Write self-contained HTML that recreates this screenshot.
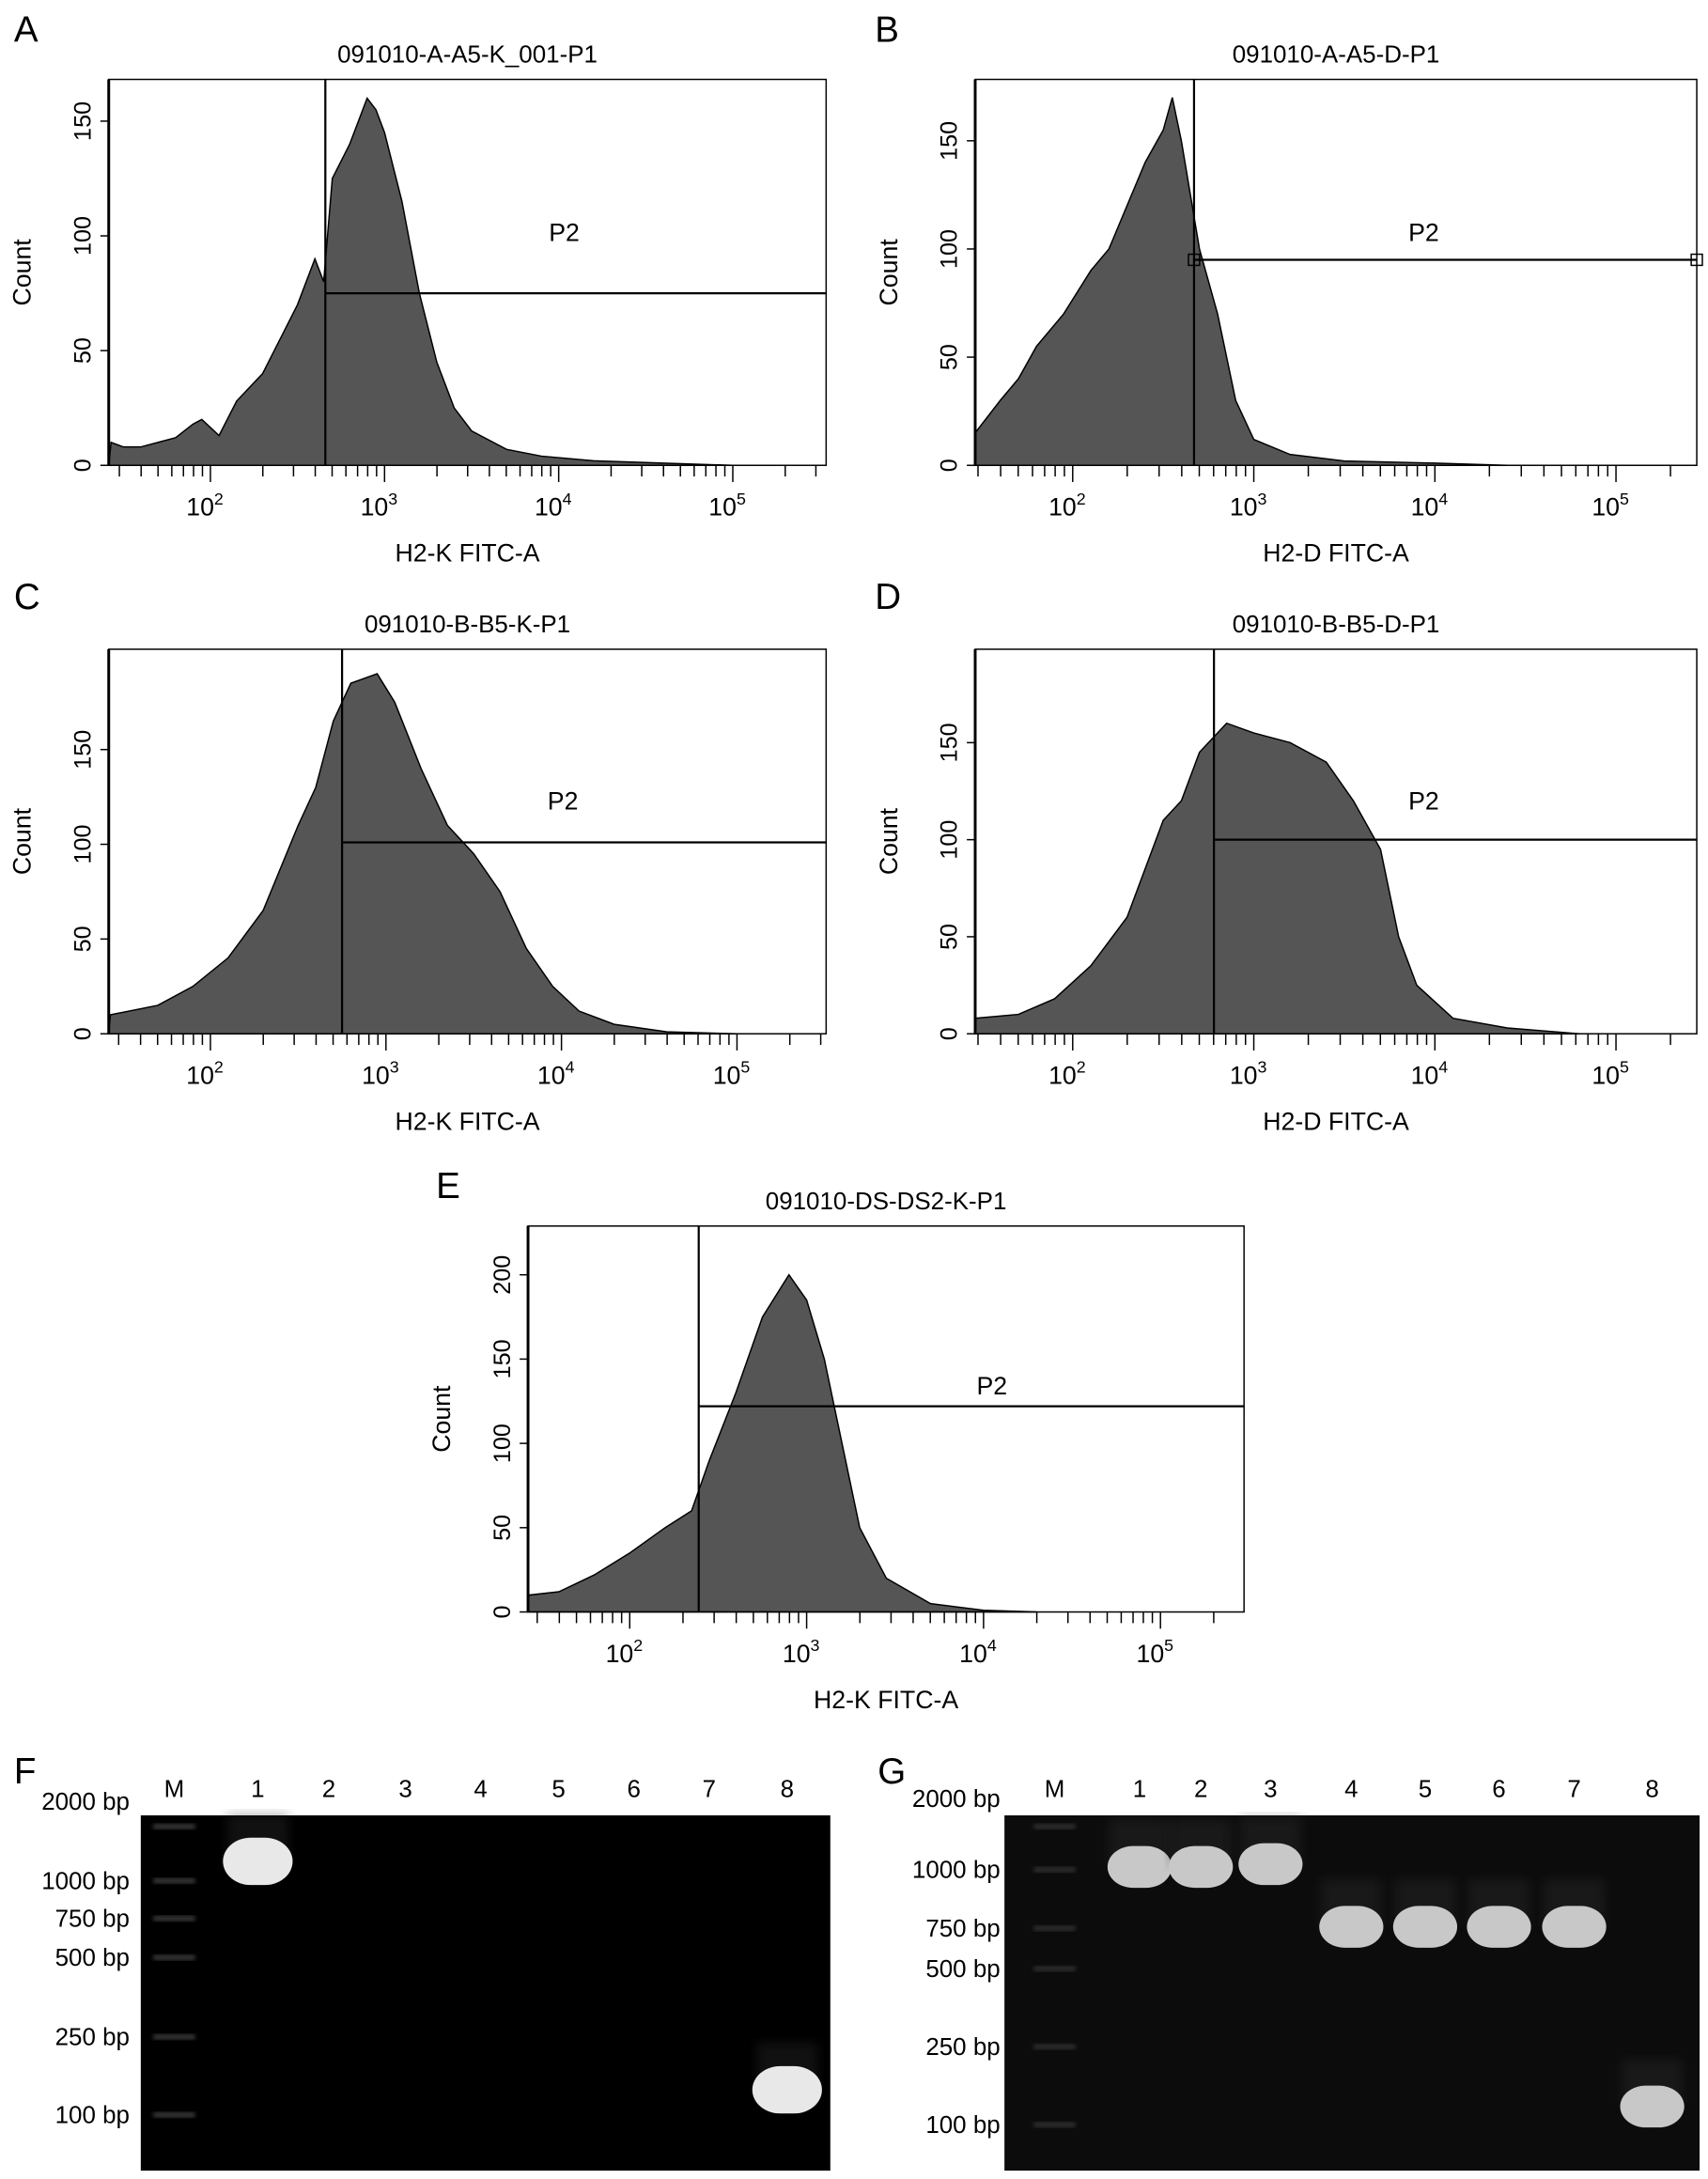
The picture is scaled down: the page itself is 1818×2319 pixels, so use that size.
<!DOCTYPE html>
<html><head><meta charset="utf-8">
<style>
html,body{margin:0;padding:0;background:#fff;}
svg{display:block;font-family:"Liberation Sans",Arial,sans-serif;}
</style></head>
<body>
<svg id="fig" width="1818" height="2319" viewBox="0 0 1226 1564" xmlns="http://www.w3.org/2000/svg">
<defs>
<filter id="blur1"><feGaussianBlur stdDeviation="1.5"/></filter>
<filter id="blur3"><feGaussianBlur stdDeviation="4"/></filter>
</defs>
</svg>
<script>
// ---- histogram data (log10 fluorescence, count) ----
const histA_x=[1.43,1.5,1.6,1.7,1.8,1.9,1.95,2.05,2.15,2.3,2.4,2.5,2.6,2.65,2.7,2.8,2.9,2.95,3.0,3.1,3.2,3.3,3.4,3.5,3.7,3.9,4.2,4.6,5.0];
const histA_y=[10,8,8,10,12,18,20,13,28,40,55,70,90,80,125,140,160,155,145,115,75,45,25,15,7,4,2,1,0];
const histB_x=[1.46,1.6,1.7,1.8,1.95,2.1,2.2,2.3,2.4,2.5,2.55,2.6,2.65,2.7,2.8,2.9,3.0,3.2,3.5,4.0,4.4];
const histB_y=[15,30,40,55,70,90,100,120,140,155,170,150,125,100,70,30,12,5,2,1,0];
const histC_x=[1.43,1.7,1.9,2.1,2.3,2.5,2.6,2.7,2.8,2.95,3.05,3.2,3.35,3.5,3.65,3.8,3.95,4.1,4.3,4.6,5.0];
const histC_y=[10,15,25,40,65,110,130,165,185,190,175,140,110,95,75,45,25,12,5,1,0];
const histD_x=[1.46,1.7,1.9,2.1,2.3,2.5,2.6,2.7,2.85,3.0,3.2,3.4,3.55,3.7,3.8,3.9,4.1,4.4,4.8];
const histD_y=[8,10,18,35,60,110,120,145,160,155,150,140,120,95,50,25,8,3,0];
const histE_x=[1.43,1.6,1.8,2.0,2.2,2.35,2.45,2.6,2.75,2.9,3.0,3.1,3.2,3.3,3.45,3.7,4.0,4.3];
const histE_y=[10,12,22,35,50,60,90,130,175,200,185,150,100,50,20,5,1,0];
const yTicksA=[0,50,100,150];
const yTicksE=[0,50,100,150,200];
const xDecades=[2,3,4,5];
// ---- gel data ----
const gelLanes=["M","1","2","3","4","5","6","7","8"];
const sizeLabels=["2000 bp","1000 bp","750 bp","500 bp","250 bp","100 bp"];
const gelF_bandLanes=[1,8];
const gelF_bandY=[1336,1500];
const gelG_bandLanes=[1,2,3,4,5,6,7,8];
const gelG_bandY=[1340,1340,1338,1383,1383,1383,1383,1512];

const NS="http://www.w3.org/2000/svg";
const svg=document.getElementById('fig');
function mk(tag,attrs,parent,text){const e=document.createElementNS(NS,tag);for(const k in attrs)e.setAttribute(k,attrs[k]);if(text!==undefined)e.textContent=text;(parent||svg).appendChild(e);return e;}

function panel(p){
  const g=mk('g',{});
  
  
  const sx=v=>p.x10+(v-2)*p.dec;
  const sy=v=>p.b-v*p.ppc;
  let lab=mk('text',{x:p.lx,y:p.ly,'font-size':26},g,p.id);
  
  
  let t=mk('text',{x:(p.l+p.r)/2,y:p.t-12,'font-size':17.5,'text-anchor':'middle'},g,p.title);
  
  
  let d='M'+p.l+','+p.b;
  for(let i=0;i<p.hx.length;i++){d+=' L'+Math.max(p.l,sx(p.hx[i])).toFixed(1)+','+sy(p.hy[i]).toFixed(1);}
  d+=' L'+sx(p.hx[p.hx.length-1]).toFixed(1)+','+p.b+' Z';
  let h=mk('path',{d:d,fill:'#555','stroke':'#000','stroke-width':1},g);
  
  
  let bx=mk('rect',{x:p.l,y:p.t,width:p.r-p.l,height:p.b-p.t,fill:'none',stroke:'#000','stroke-width':1},g);
  
  
  mk('line',{x1:p.l,y1:p.t,x2:p.l,y2:p.b,stroke:'#000','stroke-width':2},g);
  p.yt.forEach(v=>{
    mk('line',{x1:p.l-6,x2:p.l,y1:sy(v),y2:sy(v),stroke:'#000'},g);
    let tt=mk('text',{x:p.l-13,y:sy(v),'font-size':17,'text-anchor':'middle',transform:'rotate(-90 '+(p.l-13)+' '+sy(v)+')'},g,String(v));
    
    
  });
  let yl=mk('text',{x:p.l-56,y:(p.t+p.b)/2,'font-size':18,'text-anchor':'middle',transform:'rotate(-90 '+(p.l-56)+' '+(p.t+p.b)/2+')'},g,'Count');
  
  
  for(let e=1;e<=5;e++){for(let m=1;m<10;m++){const v=e+Math.log10(m);const x=sx(v);if(x<p.l||x>p.r)continue;mk('line',{x1:x,x2:x,y1:p.b,y2:p.b+(m==1?12:8),stroke:'#000'},g);}}
  xDecades.forEach(e=>{
    let tx=mk('text',{x:sx(e)-4,y:p.b+36,'font-size':18,'text-anchor':'middle'},g,'10');
    mk('tspan',{'font-size':12,dy:-8},tx,String(e));
    
    
  });
  let xl=mk('text',{x:(p.l+p.r)/2,y:p.b+69,'font-size':18,'text-anchor':'middle'},g,p.xlab);
  
  
  const gx=sx(p.gate),gy=sy(p.gcount);
  let gv=mk('line',{x1:gx,x2:gx,y1:p.t,y2:p.b,stroke:'#000','stroke-width':1.5},g);
  
  
  let gh=mk('line',{x1:gx,x2:p.r,y1:gy,y2:gy,stroke:'#000','stroke-width':1.5},g);
  
  
  if(p.handles){mk('rect',{x:gx-4,y:gy-4,width:8,height:8,fill:'none',stroke:'#000'},g);mk('rect',{x:p.r-4,y:gy-4,width:8,height:8,fill:'none',stroke:'#000'},g);}
  let pl=mk('text',{x:p.px,y:p.py,'font-size':18,'text-anchor':'middle'},g,'P2');
  
  
}

panel({id:'A',lx:10,ly:30,title:'091010-A-A5-K_001-P1',l:78,r:593,t:57,b:334,x10:151,dec:125,ppc:1.647,hx:histA_x,hy:histA_y,yt:yTicksA,xlab:'H2-K FITC-A',gate:2.66,gcount:75,px:405,py:173});
panel({id:'B',lx:628,ly:30,title:'091010-A-A5-D-P1',l:700,r:1218,t:57,b:334,x10:770,dec:130,ppc:1.553,hx:histB_x,hy:histB_y,yt:yTicksA,xlab:'H2-D FITC-A',gate:2.67,gcount:95,px:1022,py:173,handles:true});
panel({id:'C',lx:10,ly:437,title:'091010-B-B5-K-P1',l:78,r:593,t:466,b:742,x10:151,dec:126,ppc:1.36,hx:histC_x,hy:histC_y,yt:yTicksA,xlab:'H2-K FITC-A',gate:2.75,gcount:101,px:404,py:581});
panel({id:'D',lx:628,ly:437,title:'091010-B-B5-D-P1',l:700,r:1218,t:466,b:742,x10:770,dec:130,ppc:1.393,hx:histD_x,hy:histD_y,yt:yTicksA,xlab:'H2-D FITC-A',gate:2.78,gcount:100,px:1022,py:581});
panel({id:'E',lx:313,ly:860,title:'091010-DS-DS2-K-P1',l:379,r:893,t:880,b:1157,x10:452,dec:127,ppc:1.21,hx:histE_x,hy:histE_y,yt:yTicksE,xlab:'H2-K FITC-A',gate:2.39,gcount:122,px:712,py:1001});

function gel(q){
  const g=mk('g',{});
  
  
  let lab=mk('text',{x:q.lx,y:1280,'font-size':26},g,q.id);
  
  
  let bg=mk('rect',{x:q.l,y:1303,width:q.r-q.l,height:255,fill:q.bg},g);
  
  
  gelLanes.forEach((ln,i)=>{
    let t=mk('text',{x:q.lanes[i],y:1290,'font-size':17.5,'text-anchor':'middle'},g,ln);
    
    
  });
  sizeLabels.forEach((s,i)=>{
    let t=mk('text',{x:q.sx,y:q.sy[i]+6,'font-size':17.5,'text-anchor':'end'},g,s);
    
    
    const my=Math.max(1311,q.sy[i]);
    mk('rect',{x:q.lanes[0]-15,y:my-2,width:30,height:4,fill:'#777',opacity:q.mOp,filter:'url(#blur1)'},g);
  });
  q.bl.forEach((ln,i)=>{
    const cx=q.lanes[ln],cy=q.by[i];
    mk('rect',{x:cx-22,y:cy-34,width:44,height:34,fill:'#333',opacity:0.35,filter:'url(#blur3)'},g);
    let b=mk('rect',{x:cx-q.bw/2,y:cy-q.bh/2,width:q.bw,height:q.bh,rx:q.bw/2.5,ry:q.bh/2,fill:q.bc},g);
    
    
  });
}
gel({id:'F',lx:10,l:101,r:596,bg:'#000',lanes:[125,185,236,291,345,401,455,509,565],sx:93,sy:[1293,1350,1377,1405,1462,1518],mOp:0.45,bl:gelF_bandLanes,by:gelF_bandY,bw:50,bh:34,bc:'#e8e8e8'});
gel({id:'G',lx:630,l:721,r:1220,bg:'#0c0c0c',lanes:[757,818,862,912,970,1023,1076,1130,1186],sx:718,sy:[1291,1342,1384,1413,1469,1525],mOp:0.3,bl:gelG_bandLanes,by:gelG_bandY,bw:46,bh:30,bc:'#c8c8c8'});
</script>
</body></html>
